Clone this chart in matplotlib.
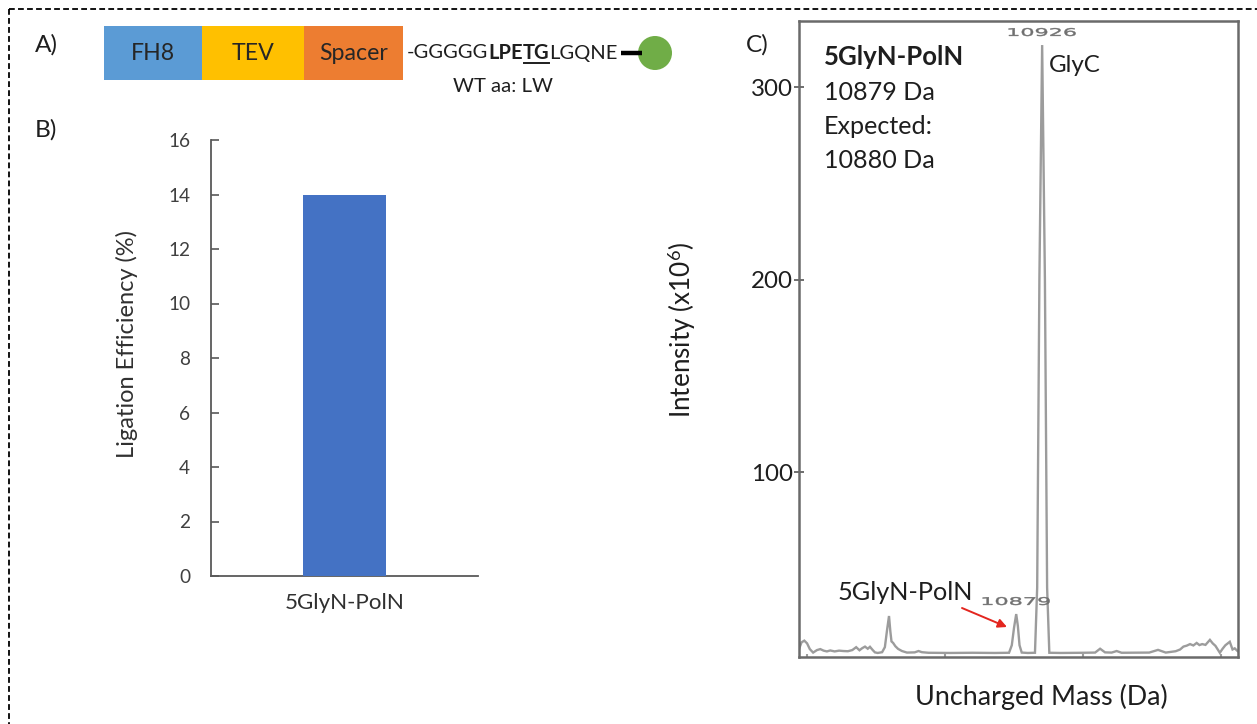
import matplotlib
matplotlib.use("Agg")
import matplotlib.pyplot as plt
from matplotlib.patches import Rectangle, Circle, PathPatch
from matplotlib.textpath import TextPath
from matplotlib.font_manager import FontProperties
from matplotlib.transforms import Affine2D

plt.rcParams['font.family'] = ['Lato', 'DejaVu Sans']
plt.rcParams['mathtext.fontset'] = 'custom'
plt.rcParams['mathtext.rm'] = 'Lato'
plt.rcParams['mathtext.it'] = 'Lato:italic'

# ---- panel B: ligation efficiency ----
categories = ['5GlyN-PolN']
efficiency = [14]
eff_ticks = [0, 2, 4, 6, 8, 10, 12, 14, 16]

# ---- panel C: deconvoluted mass spectrum ----
mass_da = [10486, 10490, 10495, 10500, 10505, 10511, 10518, 10524, 10530, 10536,
           10542, 10550, 10558, 10566, 10574, 10582, 10589, 10595, 10600, 10605,
           10610, 10614, 10619, 10623, 10628, 10636, 10641, 10645, 10648.5, 10651,
           10653, 10656, 10660, 10665, 10672, 10681, 10695, 10702, 10708, 10720,
           10760, 10800, 10840, 10866, 10871, 10875, 10879, 10882, 10885, 10889,
           10900, 10913, 10917, 10921, 10926, 10931, 10935, 10939, 10960, 11000,
           11022, 11031, 11040, 11052, 11061, 11070, 11120, 11136, 11150, 11168,
           11176, 11182, 11188, 11194, 11200, 11206, 11211, 11216, 11222, 11230,
           11235, 11240, 11248, 11253, 11258, 11266, 11271, 11275, 11280]
intensity = [8.5, 11.5, 12.4, 11.0, 8.0, 6.2, 7.5, 8.0, 7.2, 6.8,
             7.3, 6.8, 7.2, 7.0, 6.9, 7.5, 9.0, 7.4, 8.5, 9.3,
             8.2, 9.2, 7.5, 6.3, 6.0, 6.4, 9.0, 18.0, 25.2, 17.0,
             12.0, 11.2, 9.5, 8.1, 7.0, 6.2, 6.3, 7.0, 6.4, 6.1,
             6.0, 6.1, 6.0, 6.1, 10.0, 19.0, 26.2, 20.0, 10.0, 6.2,
             6.0, 6.1, 40.0, 200.0, 321.8, 200.0, 40.0, 6.1, 6.0, 6.1,
             6.2, 8.2, 6.3, 6.2, 7.0, 6.1, 6.2, 7.6, 6.2, 6.9,
             7.8, 9.3, 9.8, 10.6, 9.9, 11.2, 10.1, 10.6, 10.2, 12.8,
             11.0, 9.7, 6.1, 8.2, 10.0, 11.8, 7.8, 8.4, 7.0]
labelled_peaks = [10879, 10926]
intensity_ticks = [100, 200, 300]
mass_ticks = [10500, 10750, 11000, 11250]

# ---- panel A: construct ----
domains = ['FH8', 'TEV', 'Spacer']
domain_colors = ['#5B9BD5', '#FFC000', '#ED7D31']
sequence_parts = [('-GGGGG', 'normal', False), ('LPE', 'bold', False),
                  ('TG', 'bold', True), ('LGQNE', 'normal', False)]

W, H = 1257, 724
fig = plt.figure(figsize=(W / 100, H / 100), dpi=100)
renderer = fig.canvas.get_renderer()
TXT = '#1e1e1e'


def fit(txt, width_px, weight='normal'):
    """Font size (pt) at which txt is width_px pixels wide."""
    t = fig.text(0, 0, txt, fontsize=20, fontweight=weight)
    w = t.get_window_extent(renderer).width
    t.remove()
    return 20 * width_px / w


def px_axes(left, top, right, bottom):
    return fig.add_axes([left / W, 1 - bottom / H, (right - left) / W, (bottom - top) / H])


# canvas in pixel units (y downwards) for the diagram and free text, drawn on top
ov = fig.add_axes([0, 0, 1, 1])
ov.set_xlim(0, W)
ov.set_ylim(H, 0)
ov.axis('off')
ov.set_zorder(10)

# dashed frame
ov.plot([9, 9], [9, H], color='black', lw=1.3, ls=(0, (3.2, 1.8)), clip_on=False)
ov.plot([9, W], [9, 9], color='black', lw=1.3, ls=(0, (3.2, 1.8)), clip_on=False)

# panel letters
fs_letter = fit('A)', 23)
for lab, x, y in [('A)', 35, 45), ('B)', 35, 130), ('C)', 746, 45)]:
    ov.text(x, y, lab, fontsize=fs_letter, color=TXT, va='center', ha='left')

# construct boxes
box_x = [104, 202, 304]
box_w = [98, 102, 99]
fs_box = fit('Spacer', 69)
for name, col, x0, w in zip(domains, domain_colors, box_x, box_w):
    ov.add_patch(Rectangle((x0, 26), w, 54, facecolor=col, edgecolor='none'))
    ov.text(x0 + w / 2, 53, name, fontsize=fs_box, color='#262626', ha='center', va='center')

fs_seq = fit('-GGGGGLPETGLGQNE', 210)
xs = 407
for txt, weight, under in sequence_parts:
    t = ov.text(xs, 53, txt, fontsize=fs_seq, fontweight=weight, color=TXT, ha='left', va='center')
    bb = t.get_window_extent(renderer)
    if under:
        ov.plot([xs + 1, xs + bb.width - 1], [63, 63], color=TXT, lw=1.4)
    xs += bb.width
ov.plot([xs + 3, 642], [53, 53], color='black', lw=3.2, solid_capstyle='butt')
ov.add_patch(Circle((655, 53), 17, facecolor='#70AD47', edgecolor='none'))
ov.text(503, 87, 'WT aa: LW', fontsize=fit('WT aa: LW', 100), color=TXT, ha='center', va='center')

# ---- panel B ----
axB = px_axes(211, 140, 478, 576)
axB.bar(range(len(categories)), efficiency, width=0.31, color='#4472C4', zorder=3)
axB.set_xlim(-0.5, 0.5)
axB.set_ylim(0, 16)
axB.set_yticks(eff_ticks)
axB.set_xticks(range(len(categories)))
axB.set_xticklabels(categories)
for s in ['top', 'right']:
    axB.spines[s].set_visible(False)
for s in ['left', 'bottom']:
    axB.spines[s].set_color('#595959')
    axB.spines[s].set_linewidth(1.3)
axB.tick_params(axis='y', direction='in', length=6, width=1.2, color='#595959',
                pad=15, labelsize=fit('16', 22), labelcolor='#404040')
axB.tick_params(axis='x', length=0, pad=12, labelsize=fit('5GlyN-PolN', 120), labelcolor='#303030')
axB.set_ylabel('Ligation Efficiency (%)', fontsize=fit('Ligation Efficiency (%)', 228),
               color='#303030', va='center')
axB.yaxis.set_label_coords((127 - 211) / 267, (576 - 344) / 436)
axB.patch.set_alpha(0)

# ---- panel C ----
axC = px_axes(799, 21, 1238, 657)
axC.plot(mass_da, intensity, color='#9c9c9c', lw=1.7, solid_joinstyle='miter')
axC.set_xlim(10485.4, 11280.9)
axC.set_ylim(3.9, 334.3)
axC.set_yticks(intensity_ticks)
axC.set_xticks(mass_ticks)
axC.set_xticklabels([])
for s in axC.spines.values():
    s.set_color('#6a6a6a')
    s.set_linewidth(1.8)
axC.tick_params(axis='y', direction='inout', length=7, width=1.2, color='#555555',
                pad=1, labelsize=fit('300', 42), labelcolor=TXT)
axC.tick_params(axis='x', direction='in', length=2.5, width=1.5, color='#9c9c9c')
axC.set_ylabel('Intensity (x10$^6$)', fontsize=fit('Intensity (x10$^6$)', 176), color=TXT, va='center')
axC.yaxis.set_label_coords((682 - 799) / 439, (657 - 330) / 636)
axC.set_xlabel('Uncharged Mass (Da)', fontsize=fit('Uncharged Mass (Da)', 253), color=TXT, va='center')
axC.xaxis.set_label_coords((1041.5 - 799) / 439, (657 - 697) / 636)

# stretched peak mass labels above the apexes
peak_int = dict(zip(mass_da, intensity))
fp = FontProperties(family='DejaVu Sans')
for m in labelled_peaks:
    xd, yd = axC.transData.transform((m, peak_int[m]))
    tp = TextPath((0, 0), str(m), size=10, prop=fp)
    ext = tp.get_extents()
    tr = (Affine2D().translate(-ext.x0 - ext.width / 2, -ext.y0)
          .scale(67 / ext.width, 8 / ext.height)
          .translate(xd, yd + 9))
    fig.add_artist(PathPatch(tp, transform=tr, facecolor='#707070', edgecolor='#707070', lw=0.3))

# annotations inside the spectrum
fs_c = fit('10879 Da', 111)
ov.text(824, 57, '5GlyN-PolN', fontsize=fit('5GlyN-PolN', 140, 'bold'), fontweight='bold', color=TXT, va='center')
ov.text(824, 92, '10879 Da', fontsize=fs_c, color=TXT, va='center')
ov.text(824, 127, 'Expected:', fontsize=fs_c, color=TXT, va='center')
ov.text(824, 161, '10880 Da', fontsize=fs_c, color=TXT, va='center')
ov.text(1049, 65, 'GlyC', fontsize=fit('GlyC', 52), color=TXT, va='center')
ov.text(838, 592, '5GlyN-PolN', fontsize=fit('5GlyN-PolN', 135), color=TXT, va='center')
ov.annotate('', xy=(1007, 627), xytext=(962, 608),
            arrowprops=dict(arrowstyle='-|>', color='#e3261f', lw=1.4,
                            mutation_scale=13, shrinkA=0, shrinkB=0))

fig.savefig('out.png', dpi=100)
